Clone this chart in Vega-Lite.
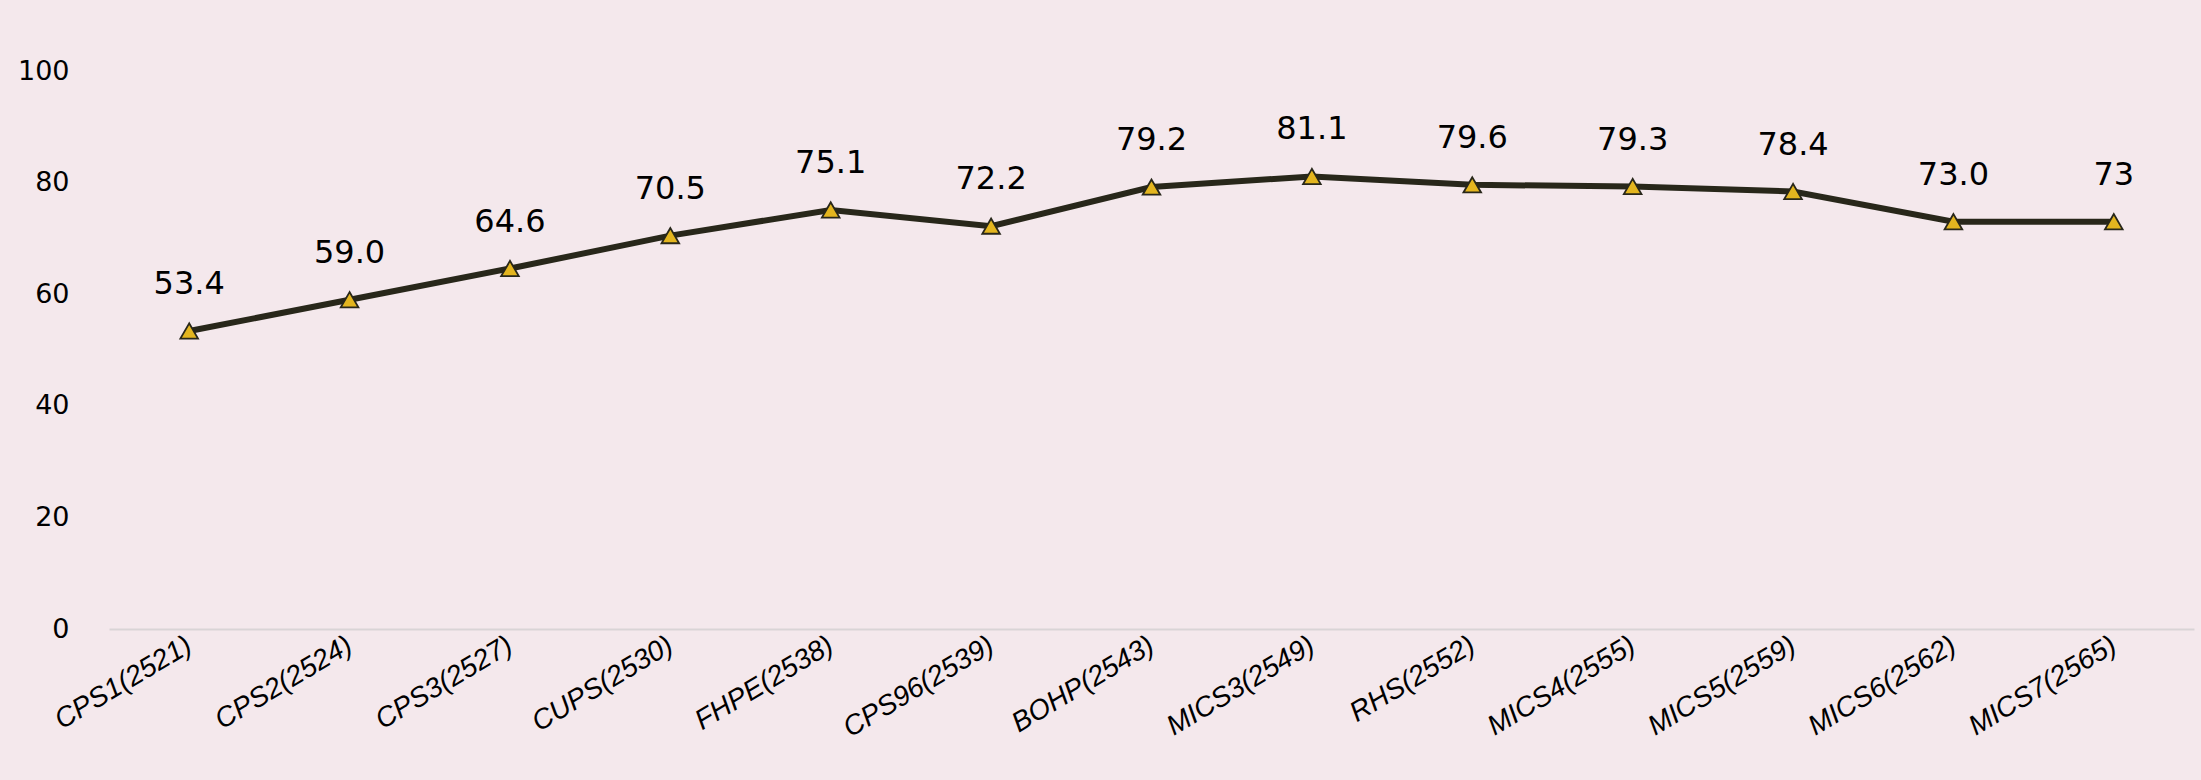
{
  "$schema": "https://vega.github.io/schema/vega-lite/v6.json",
  "width": 2085,
  "height": 558,
  "autosize": {"type": "none"},
  "padding": {"left": 109, "top": 71, "right": 7, "bottom": 151},
  "background": "#F4E8EC",
  "config": {
    "view": {"stroke": null},
    "font": "DejaVu Sans"
  },
  "data": {
    "values": [
      {"survey": "CPS1(2521)", "value": 53.4, "label": "53.4"},
      {"survey": "CPS2(2524)", "value": 59.0, "label": "59.0"},
      {"survey": "CPS3(2527)", "value": 64.6, "label": "64.6"},
      {"survey": "CUPS(2530)", "value": 70.5, "label": "70.5"},
      {"survey": "FHPE(2538)", "value": 75.1, "label": "75.1"},
      {"survey": "CPS96(2539)", "value": 72.2, "label": "72.2"},
      {"survey": "BOHP(2543)", "value": 79.2, "label": "79.2"},
      {"survey": "MICS3(2549)", "value": 81.1, "label": "81.1"},
      {"survey": "RHS(2552)", "value": 79.6, "label": "79.6"},
      {"survey": "MICS4(2555)", "value": 79.3, "label": "79.3"},
      {"survey": "MICS5(2559)", "value": 78.4, "label": "78.4"},
      {"survey": "MICS6(2562)", "value": 73.0, "label": "73.0"},
      {"survey": "MICS7(2565)", "value": 73.0, "label": "73"}
    ]
  },
  "encoding": {
    "x": {
      "field": "survey",
      "type": "nominal",
      "sort": null,
      "scale": {"paddingInner": 0, "paddingOuter": 0},
      "axis": {
        "title": null,
        "labelAngle": -31,
        "labelAlign": "right",
        "labelBaseline": "middle",
        "labelFont": "Liberation Sans",
        "labelFontStyle": "italic",
        "labelFontSize": 28,
        "labelLimit": 0,
        "labelColor": "#000000",
        "labelPadding": 14,
        "ticks": false,
        "domain": true,
        "domainColor": "#D9D4D6",
        "domainWidth": 2,
        "grid": false
      }
    },
    "y": {
      "field": "value",
      "type": "quantitative",
      "scale": {"domain": [0, 100]},
      "axis": {
        "title": null,
        "values": [0, 20, 40, 60, 80, 100],
        "labelFont": "DejaVu Sans",
        "labelFontSize": 27,
        "labelColor": "#000000",
        "labelPadding": 40,
        "ticks": false,
        "domain": false,
        "grid": false
      }
    }
  },
  "layer": [
    {
      "mark": {"type": "line", "color": "#28271A", "strokeWidth": 6}
    },
    {
      "mark": {
        "type": "point",
        "shape": "triangle-up",
        "size": 310,
        "filled": true,
        "fill": "#E3B51F",
        "stroke": "#28271A",
        "strokeWidth": 1.8,
        "opacity": 1
      }
    },
    {
      "mark": {
        "type": "text",
        "dy": -47,
        "fontSize": 32,
        "font": "DejaVu Sans",
        "color": "#000000",
        "baseline": "middle"
      },
      "encoding": {"text": {"field": "label"}}
    }
  ]
}
